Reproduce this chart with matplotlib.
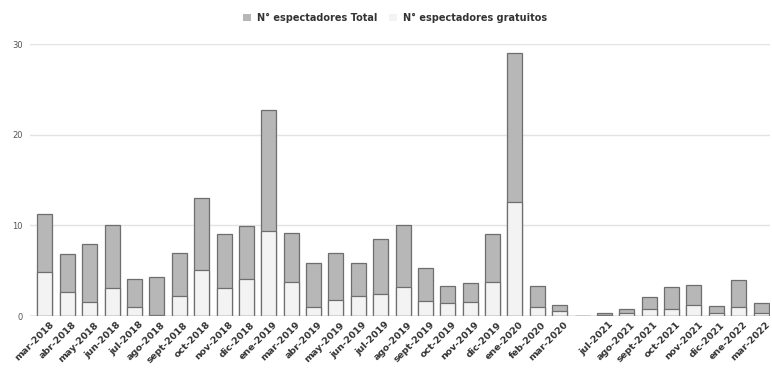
import matplotlib.pyplot as plt
from matplotlib.patches import Patch
from matplotlib.transforms import ScaledTranslation

# Months shown on the x axis (one unlabeled empty slot between 2020 and 2021)
meses = ['mar-2018', 'abr-2018', 'may-2018', 'jun-2018', 'jul-2018', 'ago-2018',
         'sept-2018', 'oct-2018', 'nov-2018', 'dic-2018', 'ene-2019', 'mar-2019',
         'abr-2019', 'may-2019', 'jun-2019', 'jul-2019', 'ago-2019', 'sept-2019',
         'oct-2019', 'nov-2019', 'dic-2019', 'ene-2020', 'feb-2020', 'mar-2020',
         '', 'jul-2021', 'ago-2021', 'sept-2021', 'oct-2021', 'nov-2021',
         'dic-2021', 'ene-2022', 'mar-2022']

total = [11.3, 6.85, 7.9, 10.0, 4.05, 4.3, 6.95, 13.0, 9.0, 9.9, 22.7, 9.2,
         5.8, 6.95, 5.8, 8.55, 10.1, 5.3, 3.3, 3.6, 9.0, 29.0, 3.3, 1.25,
         0.0, 0.35, 0.75, 2.05, 3.15, 3.4, 1.1, 4.0, 1.4]

gratuitos = [4.9, 2.65, 1.5, 3.1, 0.95, 0.15, 2.2, 5.1, 3.1, 4.1, 9.4, 3.75,
             1.0, 1.75, 2.2, 2.4, 3.15, 1.7, 1.4, 1.6, 3.7, 12.6, 1.0, 0.5,
             0.0, 0.1, 0.3, 0.75, 0.75, 1.25, 0.35, 0.95, 0.35]

color_total = '#b7b7b7'
color_grat = '#f3f3f3'
borde = '#6e6e6e'

fig = plt.figure(figsize=(7.72, 3.68), dpi=100)
ax = fig.add_axes([30 / 772, 1 - 316 / 368, 740 / 772, (316 - 44.3) / 368])

x = range(len(meses))
ax.bar(x, total, width=0.67, color=color_total, edgecolor=borde, linewidth=0.9, zorder=3)
ax.bar(x, gratuitos, width=0.67, color=color_grat, edgecolor=borde, linewidth=0.9, zorder=4)

ax.set_ylim(0, 30)
ax.set_xlim(-0.67, 32.4)
ax.set_yticks([0, 10, 20, 30])
ax.grid(axis='y', color='#e3e3e3', linewidth=1, zorder=0)
ax.axhline(0, color='#9a9a9a', linewidth=1, zorder=5)

for s in ax.spines.values():
    s.set_visible(False)

ax.tick_params(axis='y', length=0, labelsize=6, labelcolor='#555555', pad=5)
ax.tick_params(axis='x', length=0, pad=3)
ax.set_xticks(list(x))
ax.set_xticklabels(meses, rotation=45, ha='right', rotation_mode='anchor',
                   fontsize=6.8, fontweight='bold', color='#333333')
# nudge labels right so they end just past the bar centre, like the original
shift = ScaledTranslation(3 / 72, 0, fig.dpi_scale_trans)
for lbl in ax.get_xticklabels():
    lbl.set_transform(lbl.get_transform() + shift)

handles = [Patch(facecolor=color_total, edgecolor='none', label='N° espectadores Total'),
           Patch(facecolor=color_grat, edgecolor='none', label='N° espectadores gratuitos')]
fig.legend(handles=handles, loc='center', bbox_to_anchor=(395 / 772, 1 - 18 / 368),
           ncol=2, frameon=False, handlelength=0.8, handleheight=0.8,
           handletextpad=0.6, columnspacing=1.2,
           prop={'size': 7, 'weight': 'bold'}, labelcolor='#333333')

fig.savefig('out.png', dpi=100)
